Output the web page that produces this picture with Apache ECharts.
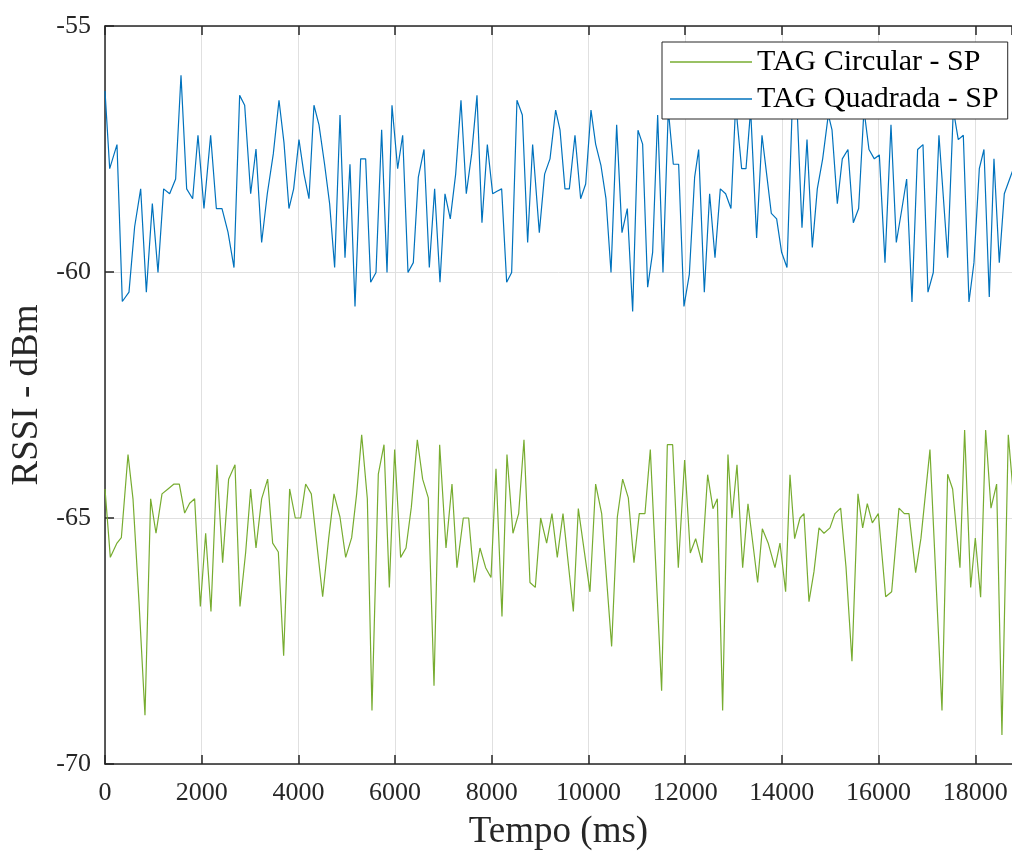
<!DOCTYPE html>
<html>
<head>
<meta charset="utf-8">
<script src="https://cdn.jsdelivr.net/npm/echarts@6/dist/echarts.min.js"></script>
<style>
  html, body { margin: 0; padding: 0; background: #fff; }
  #chart { width: 1012px; height: 856px; }
</style>
</head>
<body>
<div id="chart"></div>
<script>
// ---- Data ----
const xTicks = [0, 2000, 4000, 6000, 8000, 10000, 12000, 14000, 16000, 18000];
const yTicks = [-70, -65, -60, -55];
const seriesNames = ['TAG Circular - SP', 'TAG Quadrada - SP'];

// TAG Quadrada - SP (blue): time (ms) and RSSI (dBm)
const quadT = [
  0,97,248,358,496,613,738,855,979,1096,1213,1337,1461,1572,1689,1813,1923,2047,2185,2303,2420,2544,2668,2785,2889,3013,3123,3240,3357,3481,3599,3702,3805,3902,4012,4116,4219,4322,4426,4543,4646,4750,
  4861,4964,5067,5171,5288,5391,5495,5605,5722,5833,5936,6053,6157,6267,6377,6481,6598,6708,6818,6929,7032,7142,7253,7363,7473,7584,7694,7797,7908,8018,8108,8204,8308,8411,8521,8632,8742,8845,8983,9093,9204,9321,9411,9514,
  9604,9721,9838,9942,10052,10148,10259,10362,10466,10583,10693,10803,10914,11024,11120,11224,11327,11431,11541,11651,11755,11865,11975,12086,12196,12279,12396,12506,12617,12727,12837,12947,13044,13168,13258,13354,13478,13589,13685,13782,13892,13995,14106,14216,
  14320,14416,14520,14630,14733,14844,14961,15037,15147,15250,15367,15478,15588,15698,15802,15912,16016,16133,16257,16367,16477,16581,16691,16808,16919,17022,17132,17249,17429,17546,17649,17753,17870,17973,18084,18180,18290,18387,18497,18601,18711,18790
];
const quadV = [
  -56.32,-57.90,-57.41,-60.60,-60.41,-59.08,-58.31,-60.41,-58.61,-60.01,-58.31,-58.41,-58.11,-56.00,-58.31,-58.51,-57.22,-58.71,-57.22,-58.71,-58.71,-59.19,-59.91,-56.41,-56.61,-58.41,-57.50,-59.40,-58.41,-57.60,-56.51,-57.37,-58.71,-58.31,-57.31,-58.01,-58.51,-56.61,-57.01,-57.82,-58.61,-59.91,
  -56.81,-59.71,-57.81,-60.70,-57.70,-57.70,-60.21,-60.01,-57.11,-60.01,-56.61,-57.90,-57.22,-60.01,-59.81,-58.07,-57.51,-59.91,-58.31,-60.21,-58.41,-58.92,-58.01,-56.51,-58.41,-57.60,-56.41,-59.00,-57.41,-58.41,-58.36,-58.31,-60.21,-60.01,-56.51,-56.81,-59.40,-57.41,-59.20,-58.01,-57.70,-56.71,-57.11,-58.31,
  -58.31,-57.22,-58.51,-58.21,-56.71,-57.40,-57.84,-58.51,-60.01,-57.01,-59.20,-58.71,-60.80,-57.12,-57.40,-60.31,-59.60,-56.81,-60.01,-56.70,-57.81,-57.81,-60.70,-60.05,-58.07,-57.51,-60.41,-58.41,-59.71,-58.31,-58.41,-58.71,-56.60,-57.90,-57.90,-56.70,-59.31,-57.22,-58.01,-58.81,-58.92,-59.60,-59.91,-56.60,
  -56.80,-59.10,-57.31,-59.50,-58.31,-57.70,-56.80,-57.11,-58.61,-57.70,-57.51,-59.00,-58.71,-56.70,-57.51,-57.70,-57.62,-59.81,-57.01,-59.40,-58.75,-58.11,-60.61,-57.51,-57.41,-60.41,-60.01,-57.22,-59.71,-56.70,-57.31,-57.22,-60.61,-59.81,-57.90,-57.51,-60.51,-57.70,-59.81,-58.41,-58.11,-57.90
];

// TAG Circular - SP (green): time (ms) and RSSI (dBm)
const circT = [
  0,110,248,338,476,579,703,827,944,1055,1179,1303,1427,1537,1648,1751,1854,1972,2082,2192,2316,2433,2557,2689,2792,2909,3013,3123,3240,3364,3468,3585,3695,3819,3936,4047,4150,4267,4385,4502,4626,4736,
  4860,4978,5102,5205,5309,5426,5522,5653,5771,5881,5991,6115,6226,6336,6460,6570,6687,6805,6922,7053,7177,7280,7411,7522,7639,7756,7873,7984,8087,8211,8314,8438,8556,8666,8790,8900,9011,9135,9245,9355,9473,
  9687,9790,10031,10148,10273,10479,10597,10707,10824,10941,11051,11169,11279,11513,11631,11741,11858,11989,12106,12217,12348,12465,12575,12665,12775,12885,12968,13072,13189,13299,13499,13596,13720,13857,13961,14078,14168,14264,
  14375,14457,14561,14664,14768,14871,14995,15099,15216,15326,15450,15574,15671,15767,15871,15995,16147,16271,16422,16533,16629,16767,16877,17063,17312,17429,17532,17684,17780,17905,18001,18111,18215,18325,18442,18552,18683,18790
];
const circV = [
  -64.41,-65.80,-65.51,-65.40,-63.71,-64.61,-66.70,-69.01,-64.61,-65.31,-64.51,-64.41,-64.31,-64.31,-64.90,-64.70,-64.61,-66.80,-65.31,-66.90,-63.92,-65.91,-64.21,-63.92,-66.80,-65.70,-64.41,-65.61,-64.61,-64.21,-65.51,-65.69,-67.80,-64.41,-65.00,-65.00,-64.31,-64.51,-65.56,-66.60,-65.42,-64.51,
  -64.98,-65.80,-65.40,-64.51,-63.31,-64.61,-68.91,-64.11,-63.51,-66.41,-63.61,-65.80,-65.61,-64.78,-63.41,-64.21,-64.59,-68.41,-63.51,-65.61,-64.31,-66.01,-65.00,-65.00,-66.31,-65.61,-66.01,-66.21,-64.00,-67.00,-63.71,-65.31,-64.91,-63.41,-66.31,-66.41,-65.00,-65.51,-64.91,-65.80,-64.91,
  -66.90,-64.81,-66.50,-64.31,-64.91,-67.61,-64.98,-64.21,-64.59,-65.91,-64.91,-64.91,-63.61,-68.51,-63.51,-63.51,-66.01,-63.82,-65.71,-65.42,-65.91,-64.12,-64.81,-64.61,-68.91,-63.71,-65.00,-63.92,-66.01,-64.71,-66.31,-65.22,-65.52,-66.01,-65.51,-66.50,-64.12,-65.42,
  -65.00,-64.91,-66.70,-66.09,-65.20,-65.31,-65.20,-64.91,-64.80,-65.99,-67.91,-64.51,-65.20,-64.71,-65.10,-64.91,-66.60,-66.50,-64.80,-64.91,-64.91,-66.11,-65.41,-63.61,-68.91,-64.11,-64.41,-66.01,-63.21,-66.41,-65.41,-66.61,-63.21,-64.80,-64.31,-69.41,-63.31,-64.55
];

const X_MIN = 0, X_MAX = 18760, X_STEP = 2000;
const Y_MIN = -70, Y_MAX = -55, Y_STEP = 5;

function pairs(ts, vs) { return ts.map((t, i) => [t, vs[i]]); }

const FONT = "'Liberation Serif', 'Times New Roman', serif";
const AX = '#262626';
const chart = echarts.init(document.getElementById('chart'), null, { renderer: 'canvas' });

chart.setOption({
  animation: false,
  backgroundColor: '#ffffff',
  grid: { left: 105, right: 0, top: 26, bottom: 88, containLabel: false },
  legend: {
    data: seriesNames.map(n => ({ name: n, icon: 'rect' })),
    orient: 'vertical',
    left: 662, top: 42,
    backgroundColor: '#ffffff',
    borderColor: AX, borderWidth: 1, borderRadius: 0,
    padding: [5, 9, 5, 8],
    itemWidth: 82, itemHeight: 1.5, itemGap: 7,
    textStyle: { fontFamily: FONT, fontSize: 30, color: '#000' }
  },
  xAxis: [{
    type: 'value', min: X_MIN, max: X_MAX, interval: X_STEP, position: 'bottom',
    name: 'Tempo (ms)', nameLocation: 'middle', nameGap: 50,
    nameTextStyle: { fontFamily: FONT, fontSize: 37, color: AX },
    axisLine: { show: true, onZero: false, lineStyle: { color: AX, width: 1.5 } },
    axisTick: { show: true, inside: true, length: 9, lineStyle: { color: AX, width: 1.5 } },
    axisLabel: { fontFamily: FONT, fontSize: 26, color: AX, margin: 16, showMaxLabel: false,
      formatter: v => (xTicks.indexOf(v) >= 0 ? String(v) : '') },
    splitLine: { show: true, lineStyle: { color: '#e0e0e0', width: 1 } }
  }, {
    type: 'value', min: X_MIN, max: X_MAX, interval: X_STEP, position: 'top',
    axisLine: { show: true, onZero: false, lineStyle: { color: AX, width: 1.5 } },
    axisTick: { show: true, inside: true, length: 9, lineStyle: { color: AX, width: 1.5 } },
    axisLabel: { show: false },
    splitLine: { show: false }
  }],
  yAxis: {
    type: 'value', min: Y_MIN, max: Y_MAX, interval: Y_STEP,
    name: 'RSSI - dBm', nameLocation: 'middle', nameGap: 42, nameRotate: 90,
    nameTextStyle: { fontFamily: FONT, fontSize: 37, color: AX },
    axisLine: { show: true, onZero: false, lineStyle: { color: AX, width: 1.5 } },
    axisTick: { show: true, inside: true, length: 9, lineStyle: { color: AX, width: 1.5 } },
    axisLabel: { fontFamily: FONT, fontSize: 26, color: AX, margin: 14,
      formatter: v => (yTicks.indexOf(v) >= 0 ? String(v) : '') },
    splitLine: { show: true, lineStyle: { color: '#e0e0e0', width: 1 } }
  },
  series: [{
    name: seriesNames[0], type: 'line', xAxisIndex: 0, symbol: 'none', clip: true,
    lineStyle: { color: '#77AC30', width: 1.2 }, itemStyle: { color: '#77AC30' },
    data: pairs(circT, circV)
  }, {
    name: seriesNames[1], type: 'line', xAxisIndex: 0, symbol: 'none', clip: true,
    lineStyle: { color: '#0072BD', width: 1.2 }, itemStyle: { color: '#0072BD' },
    data: pairs(quadT, quadV)
  }]
});
</script>
</body>
</html>
